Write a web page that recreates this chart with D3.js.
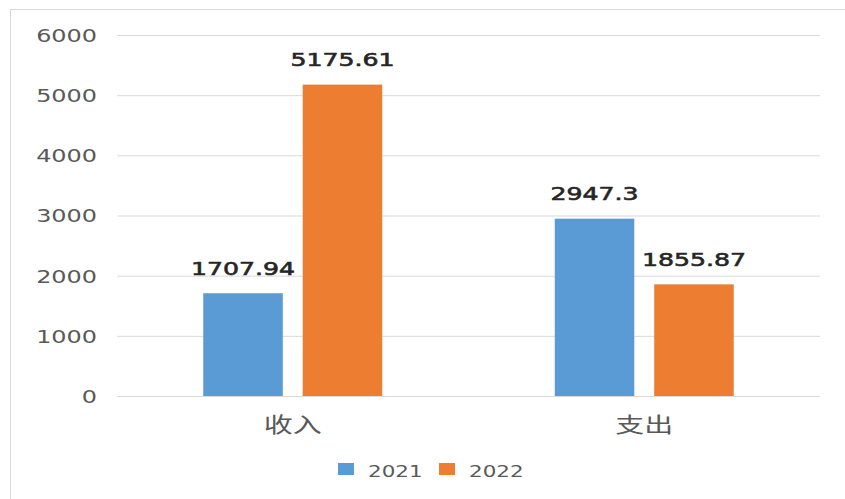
<!DOCTYPE html>
<html>
<head>
<meta charset="utf-8">
<script src="https://cdn.jsdelivr.net/npm/d3@7"></script>
<style>
  body { margin: 0; background: #fff; }
  svg { display: block; }
</style>
</head>
<body>
<svg width="845" height="499"></svg>
<script>
// data
var categories = ["收入", "支出"];
var years = ["2021", "2022"];
var values2021 = [1707.94, 2947.3];
var values2022 = [5175.61, 1855.87];
var yTicks = [0, 1000, 2000, 3000, 4000, 5000, 6000];

var data = categories.map(function (c, i) {
  return {name: c, "2021": values2021[i], "2022": values2022[i]};
});

var svg = d3.select("svg"),
    margin = {top: 35, right: 25, bottom: 103, left: 117},
    width = +svg.attr("width") - margin.left - margin.right,
    height = +svg.attr("height") - margin.top - margin.bottom,
    stretch = 1.33; // text in the source is drawn wide

// frame lines (only top and left show)
svg.append("line").attr("x1", 10).attr("x2", 845).attr("y1", 9.5).attr("y2", 9.5)
  .attr("stroke", "#d9d9d9");
svg.append("line").attr("x1", 10.5).attr("x2", 10.5).attr("y1", 9).attr("y2", 499)
  .attr("stroke", "#d9d9d9");

var g = svg.append("g").attr("transform", "translate(" + margin.left + "," + margin.top + ")");

var x0 = d3.scaleBand().domain(categories).range([0, width]);
var x1 = d3.scaleBand().domain(years)
    .range([x0.bandwidth() / 2 - 89.5, x0.bandwidth() / 2 + 89.5])
    .paddingInner(0.2);
var y = d3.scaleLinear().domain([0, 6000]).range([height, 0]);
var z = d3.scaleOrdinal().domain(years).range(["#5b9bd5", "#ed7d31"]);

// gridlines + y labels
var yAxis = g.append("g")
  .call(d3.axisLeft(y).tickValues(yTicks).tickFormat(d3.format("d")).tickSize(-width).tickPadding(0));
yAxis.select(".domain").remove();
yAxis.selectAll(".tick line").attr("stroke", "#d9d9d9");
yAxis.selectAll(".tick text")
  .attr("x", -20 / stretch)
  .attr("dy", "0.36em")
  .attr("transform", "scale(" + stretch + ",1)")
  .attr("fill", "#595959")
  .attr("font-family", "DejaVu Sans")
  .attr("font-size", 18);

// bars
var groups = g.append("g")
  .selectAll("g")
  .data(data)
  .enter().append("g")
    .attr("transform", function (d) { return "translate(" + x0(d.name) + ",0)"; });

var cells = groups.selectAll("g")
  .data(function (d) { return years.map(function (k) { return {key: k, value: d[k]}; }); })
  .enter().append("g");

cells.append("rect")
  .attr("x", function (d) { return x1(d.key); })
  .attr("y", function (d) { return y(d.value); })
  .attr("width", x1.bandwidth())
  .attr("height", function (d) { return height - y(d.value); })
  .attr("fill", function (d) { return z(d.key); });

cells.append("text")
  .attr("transform", function (d) {
    return "translate(" + (x1(d.key) + x1.bandwidth() / 2) + "," + (y(d.value) - 18.5) + ") scale(1.4,1)";
  })
  .attr("text-anchor", "middle")
  .attr("font-family", "DejaVu Sans")
  .attr("font-size", 18)
  .attr("fill", "#262626")
  .attr("stroke", "#262626")
  .attr("stroke-width", 0.6)
  .text(function (d) { return d.value; });

// category axis
var xAxis = g.append("g")
  .attr("transform", "translate(0," + height + ")")
  .call(d3.axisBottom(x0).tickSize(0));
xAxis.select(".domain").remove();
xAxis.selectAll(".tick text")
  .attr("y", 36)
  .attr("dy", 0)
  .attr("transform", "scale(1.38,1)")
  .attr("fill", "#595959")
  .attr("font-family", "Noto Sans CJK SC")
  .attr("font-size", 21);

// legend
var legendX = [338, 439];
var legend = svg.append("g")
  .selectAll("g")
  .data(years)
  .enter().append("g")
    .attr("transform", function (d, i) { return "translate(" + legendX[i] + ",463)"; });

legend.append("rect")
  .attr("width", 16)
  .attr("height", 12)
  .attr("fill", z);

legend.append("text")
  .attr("transform", "translate(30,14) scale(1.3,1)")
  .attr("font-family", "DejaVu Sans")
  .attr("font-size", 16.5)
  .attr("fill", "#595959")
  .text(function (d) { return d; });
</script>
</body>
</html>
